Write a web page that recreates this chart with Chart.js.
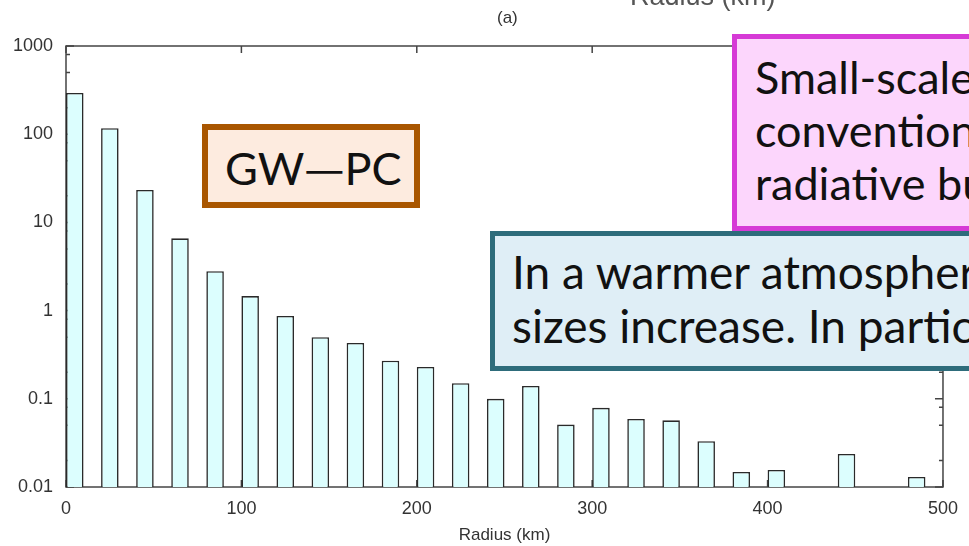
<!DOCTYPE html>
<html>
<head>
<meta charset="utf-8">
<script src="https://cdn.jsdelivr.net/npm/chart.js@4.4.0/dist/chart.umd.min.js"></script>
<style>
  html, body { margin: 0; padding: 0; background: #fff; }
  body { width: 969px; height: 546px; overflow: hidden; position: relative; }
  #cv { position: absolute; left: 0; top: 0; }
  .lbl { position: absolute; font-family: "Liberation Sans", Arial, sans-serif; color: #333; white-space: nowrap; }
  .box { position: absolute; box-sizing: border-box; overflow: hidden;
         font-family: Lato, "Noto Sans", sans-serif; font-size: 45px; line-height: 54px; color: #111; white-space: nowrap; }
  .box div { position: absolute; white-space: nowrap; }
  .dash { font-family: "Noto Sans CJK JP", sans-serif; }
</style>
</head>
<body>
<canvas id="cv" width="969" height="546"></canvas>

<div class="lbl" style="left:630px; top:-19px; font-size:27px; color:#555;">Radius (km)</div>
<div class="lbl" style="left:497px; top:8px; font-size:17px;">(a)</div>

<div class="box" style="left:202px; top:124px; width:218px; height:84px; border:6px solid #a95600; background:#fdebdf;">
  <div style="left:17px; top:9px;">GW<span class="dash">—</span>PC</div>
</div>

<div class="box" style="left:732px; top:34px; width:420px; height:197px; border:5px solid #d63ad6; background:#fcd6fc; line-height:53px;">
  <div style="left:18px; top:12px;">Small-scale<br>convention<br>radiative bu</div>
</div>

<div class="box" style="left:490px; top:231px; width:520px; height:140px; border:5px solid #2e6c7b; background:#dfeef6; font-size:46px;">
  <div style="left:17px; top:9px;">In a warmer atmosphere<br>sizes increase. In particular</div>
</div>

<script>
// histogram bins: left edge of each 10 km bar (km), one bar every 20 km
const binStarts = [0, 20, 40, 60, 80, 100, 120, 140, 160, 180, 200, 220, 240,
                   260, 280, 300, 320, 340, 360, 380, 400, 420, 440, 460, 480];
const binWidth = 10;
// frequency per bin (log axis); null = empty bin
const counts = [293, 117, 23.3, 6.6, 2.8, 1.46, 0.87, 0.50, 0.43, 0.27, 0.23, 0.15, 0.10,
                0.14, 0.051, 0.079, 0.059, 0.057, 0.033, 0.0148, 0.0156, null, 0.0237, null, 0.013];

const xTickValues = [0, 100, 200, 300, 400, 500];
const yTickValues = [0.01, 0.1, 1, 10, 100, 1000];
const yTickLabels = ['0.01', '0.1', '1', '10', '100', '1000'];
const yMinorFactors = [2, 5, 8];

const labelFont = { family: 'Liberation Sans', size: 18 };

// gnuplot-like frame with inward ticks on all four sides
const framePlugin = {
    id: 'frame',
    beforeDatasetsDraw(chart) {
        const { ctx, chartArea: a, scales } = chart;
        const xs = scales.x, ys = scales.y;
        ctx.save();
        ctx.strokeStyle = '#444';
        ctx.lineWidth = 1.5;
        ctx.strokeRect(a.left, a.top, a.right - a.left, a.bottom - a.top);
        ctx.beginPath();
        xTickValues.forEach(v => {
            const px = xs.getPixelForValue(v);
            ctx.moveTo(px, a.top); ctx.lineTo(px, a.top + 7);
            ctx.moveTo(px, a.bottom); ctx.lineTo(px, a.bottom - 7);
        });
        yTickValues.forEach(v => {
            const py = ys.getPixelForValue(v);
            ctx.moveTo(a.left, py); ctx.lineTo(a.left + 8, py);
            ctx.moveTo(a.right, py); ctx.lineTo(a.right - 8, py);
            if (v < 1000) {
                yMinorFactors.forEach(f => {
                    const pm = ys.getPixelForValue(v * f);
                    ctx.moveTo(a.left, pm); ctx.lineTo(a.left + 4, pm);
                    ctx.moveTo(a.right, pm); ctx.lineTo(a.right - 4, pm);
                });
            }
        });
        ctx.stroke();
        ctx.restore();
    }
};

const barData = binStarts.map((r, i) => ({ x: r + binWidth / 2, y: counts[i] }));

new Chart(document.getElementById('cv').getContext('2d'), {
    type: 'bar',
    data: {
        datasets: [{
            data: barData,
            backgroundColor: '#dcfefe',
            borderColor: '#2a2a2a',
            borderWidth: 1.6,
            categoryPercentage: 1,
            barPercentage: 0.5
        }]
    },
    options: {
        responsive: false,
        animation: false,
        layout: { padding: { left: 0, top: 46, right: 18, bottom: 0 } },
        plugins: { legend: { display: false }, tooltip: { enabled: false } },
        scales: {
            x: {
                type: 'linear',
                min: 0,
                max: 500,
                offset: false,
                grid: { display: false, drawTicks: false },
                border: { display: false },
                afterBuildTicks: s => { s.ticks = xTickValues.map(v => ({ value: v })); },
                afterFit: s => { s.height = 59; },
                ticks: { font: labelFont, color: '#333', padding: 11, maxRotation: 0 },
                title: { display: true, text: 'Radius (km)', font: { family: 'Liberation Sans', size: 17 },
                         color: '#333', padding: { top: 0, bottom: 0 } }
            },
            y: {
                type: 'logarithmic',
                min: 0.01,
                max: 1000,
                grid: { display: false, drawTicks: false },
                border: { display: false },
                afterBuildTicks: s => { s.ticks = yTickValues.map(v => ({ value: v })); },
                afterFit: s => { s.width = 66; },
                ticks: {
                    font: labelFont,
                    color: '#333',
                    padding: 13,
                    callback: (v) => {
                        const i = yTickValues.indexOf(v);
                        return i >= 0 ? yTickLabels[i] : '';
                    }
                }
            }
        }
    },
    plugins: [framePlugin]
});
</script>
</body>
</html>
